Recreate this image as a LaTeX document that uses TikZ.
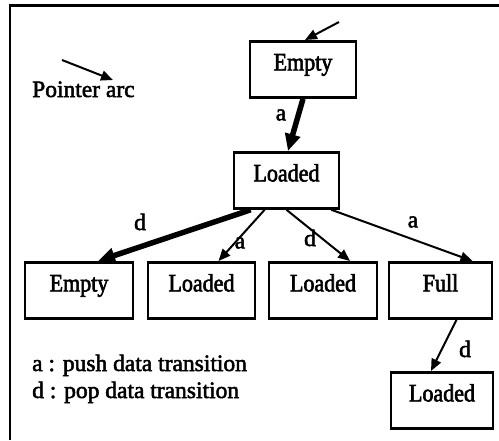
\documentclass[tikz,border=0pt]{standalone}
\usepackage{fontspec}
\setmainfont{Liberation Serif}[FakeBold=2.2]
\newfontfamily\narrowserif{Liberation Serif}[FakeBold=2.4, FakeStretch=0.88]
\usetikzlibrary{arrows.meta}

\tikzset{
  state/.style={draw, line width=2.8pt, rectangle, anchor=north,
    inner xsep=0pt, inner ysep=5pt, text height=24pt, text depth=22pt,
    font=\narrowserif\fontsize{25}{28}\selectfont},
  thinarc/.style={line width=2pt, -{Triangle[length=12pt,width=10pt]}},
  thickarc/.style={line width=5.5pt, -{Triangle[length=17pt,width=15pt]}},
  lab/.style={font=\fontsize{23.5}{27}\selectfont, inner sep=0pt},
  frameline/.style={line width=2.2pt}
}

\begin{document}
\begin{tikzpicture}[x=1pt, y=-1pt]
  \useasboundingbox (0,0) rectangle (499,440);

  % frame (top and left sides)
  \draw[frameline] (10,440) -- (10,5.5) -- (499,5.5);

  % states
  \node[state, minimum width=106pt] (e0) at (303,40) {Empty};
  \node[state, minimum width=105pt] (l1) at (286.5,151) {Loaded};
  \node[state, minimum width=108pt] (e2) at (79,261) {Empty};
  \node[state, minimum width=107pt] (l2) at (201.5,261) {Loaded};
  \node[state, minimum width=108pt] (l3) at (323,261) {Loaded};
  \node[state, minimum width=103pt] (f2) at (440.5,261) {Full};
  \node[state, minimum width=102pt] (l4) at (442,371) {Loaded};

  % entry pointer into the root state
  \coordinate (entry) at (339,22);
  \draw[thinarc] (entry) -- ([xshift=2pt]e0.north);

  % transitions
  \draw[thickarc] (e0.south) -- ([xshift=1.5pt]l1.north);
  \draw[thickarc] ([xshift=18pt]l1.south west) -- ([xshift=19pt]e2.north);
  \draw[thinarc] ([xshift=32pt]l1.south west) -- ([xshift=17pt]l2.north);
  \draw[thinarc] (l1.south) -- ([xshift=27pt]l3.north);
  \draw[thinarc] ([xshift=-9pt]l1.south east) -- ([xshift=32pt]f2.north);
  \draw[thinarc] ([xshift=16pt]f2.south) -- ([xshift=-11pt]l4.north);

  % transition labels
  \node[lab] (ta1) at (281,115) {a};
  \node[lab] (td1) at (140,222) {d};
  \node[lab] (ta2) at (240,243) {a};
  \node[lab] (td2) at (310,238) {d};
  \node[lab] (ta3) at (413,222) {a};
  \node[lab] (td3) at (465,349) {d};

  % key
  \coordinate (keytail) at (62,60);
  \coordinate (keyhead) at (113,80);
  \draw[thinarc] (keytail) -- (keyhead);
  \node[lab, anchor=base west] (keyarc) at (32,97) {Pointer arc};
  \node[lab, anchor=base west] (keya) at (32,371) {a : push data transition};
  \node[lab, anchor=base west] (keyd) at (32,398) {d : pop data transition};
\end{tikzpicture}
\end{document}
